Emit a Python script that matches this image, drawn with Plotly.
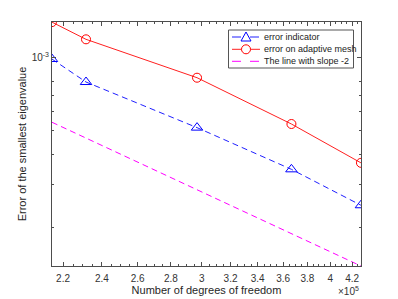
import plotly.graph_objects as go

dofs = [2.146e5, 2.316e5, 2.969e5, 3.667e5, 4.284e5]
err_indicator = [9.86e-4, 7.93e-4, 5.15e-4, 3.47e-4, 2.47e-4]
err_adaptive = [1.398e-3, 1.188e-3, 8.26e-4, 5.33e-4, 3.69e-4]
slope_x = [2.146e5, 4.284e5]
slope_y = [5.42e-4, 1.39e-4]
names = ["error indicator", "error on adaptive mesh", "The line with slope -2"]

x_tick_vals = [2.2e5, 2.4e5, 2.6e5, 2.8e5, 3.0e5, 3.2e5, 3.4e5, 3.6e5, 3.8e5, 4.0e5, 4.2e5]
x_tick_text = ["2.2", "2.4", "2.6", "2.8", "3", "3.2", "3.4", "3.6", "3.8", "4", "4.2"]
x_minor_vals = [v * 1e5 for v in [2.15, 2.25, 2.3, 2.35, 2.45, 2.5, 2.55, 2.65, 2.7, 2.75, 2.85, 2.9, 2.95,
                                   3.05, 3.1, 3.15, 3.25, 3.3, 3.35, 3.45, 3.5, 3.55, 3.65, 3.7, 3.75,
                                   3.85, 3.9, 3.95, 4.05, 4.1, 4.15, 4.25]]
y_tick_vals = [1e-3]
y_tick_text = ["10<sup>-3</sup>"]
y_minor_vals = [2e-4, 3e-4, 4e-4, 5e-4, 6e-4, 7e-4, 8e-4]

font = "Liberation Sans, Arial, sans-serif"
axcol = "#4d4d4d"
W, H = 398, 299
L, R, T, B = 52, 37, 22, 33
PW, PH = W - L - R, H - T - B

def px(x):
    return (x - L) / PW

def py(y):
    return (H - B - y) / PH

fig = go.Figure()
fig.add_trace(go.Scatter(x=dofs, y=err_indicator, name=names[0], mode="lines+markers",
                         line=dict(color="#2020ff", width=1, dash="6px,4px"),
                         marker=dict(symbol="triangle-up-open", size=10, color="#0000ff", line=dict(width=1))))
fig.add_trace(go.Scatter(x=dofs, y=err_adaptive, name=names[1], mode="lines+markers",
                         line=dict(color="#ff2020", width=1),
                         marker=dict(symbol="circle-open", size=9, color="#ff0000", line=dict(width=1))))
fig.add_trace(go.Scatter(x=slope_x, y=slope_y, name=names[2], mode="lines",
                         line=dict(color="#ff00ff", width=1, dash="6px,4px")))

# manual legend (MATLAB style)
shapes = []
annotations = []
shapes.append(dict(type="rect", xref="paper", yref="paper", x0=px(228.5), x1=px(353.5), y0=py(68), y1=py(30),
                   line=dict(color="#555", width=1), fillcolor="white", layer="above"))
rows = [37, 49.3, 61.3]
line_styles = [dict(color="#2020ff", width=1, dash="dash"), dict(color="#ff2020", width=1),
               dict(color="#ff00ff", width=1, dash="dash")]
for i, yy in enumerate(rows):
    shapes.append(dict(type="line", xref="paper", yref="paper", x0=px(232), x1=px(260), y0=py(yy), y1=py(yy),
                       line=line_styles[i], layer="above"))
    annotations.append(dict(x=px(262), y=py(yy), xref="paper", yref="paper", xanchor="left", yanchor="middle",
                            text=names[i], showarrow=False, font=dict(size=9, color="#222")))
cx, cy = 246, rows[0]
shapes.append(dict(type="path", xref="paper", yref="paper",
                   path=f"M {px(cx-5)} {py(cy+4)} L {px(cx+5)} {py(cy+4)} L {px(cx)} {py(cy-5)} Z",
                   line=dict(color="#0000ff", width=1), fillcolor="white", layer="above"))
cx, cy = 246, rows[1]
shapes.append(dict(type="circle", xref="paper", yref="paper", x0=px(cx-4.5), x1=px(cx+4.5),
                   y0=py(cy+4.5), y1=py(cy-4.5), line=dict(color="#ff0000", width=1), fillcolor="white",
                   layer="above"))

annotations.append(dict(x=1.0, y=0, xref="paper", yref="paper", xanchor="right", yanchor="top", yshift=-17,
                        text="×10<sup>5</sup>", showarrow=False, font=dict(size=10, color="#333")))

fig.update_layout(
    width=W, height=H,
    margin=dict(l=L, r=R, t=T, b=B),
    paper_bgcolor="white", plot_bgcolor="white",
    font=dict(family=font, size=10, color="#262626"),
    showlegend=False,
    shapes=shapes, annotations=annotations,
    xaxis=dict(type="log", range=[5.3317, 5.6319], tickvals=x_tick_vals, ticktext=x_tick_text,
               ticks="inside", ticklen=4, tickcolor=axcol, showline=True, linecolor=axcol, linewidth=1,
               mirror="ticks", showgrid=False, zeroline=False, automargin=False,
               tickfont=dict(size=10, color="#333"), ticklabelstandoff=3,
               minor=dict(tickvals=x_minor_vals, ticks="inside", ticklen=2, tickcolor=axcol),
               title=dict(text="Number of degrees of freedom", font=dict(size=11, color="#262626"), standoff=3)),
    yaxis=dict(type="log", range=[-3.857, -2.854], tickvals=y_tick_vals, ticktext=y_tick_text,
               ticks="inside", ticklen=4, tickcolor=axcol, showline=True, linecolor=axcol, linewidth=1,
               mirror="ticks", showgrid=False, zeroline=False, automargin=False,
               tickfont=dict(size=10, color="#333"),
               minor=dict(tickvals=y_minor_vals, ticks="inside", ticklen=2, tickcolor=axcol),
               title=dict(text="Error of the smallest eigenvalue", font=dict(size=11, color="#262626"), standoff=2)),
)

fig.write_html("out.html", config={"displayModeBar": False},
               post_script="document.body.style.margin='0';document.body.style.overflow='hidden';")
